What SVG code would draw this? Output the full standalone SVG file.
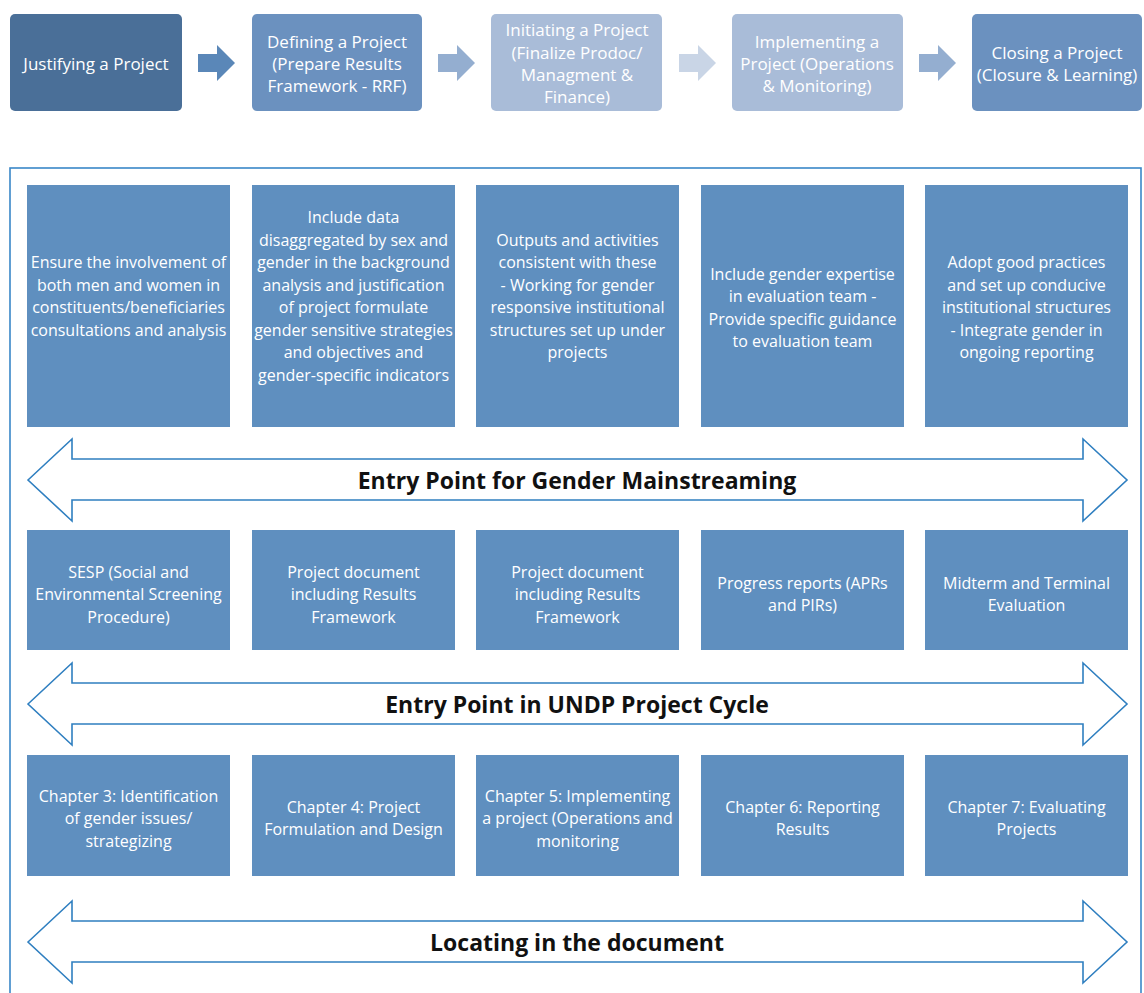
<svg xmlns="http://www.w3.org/2000/svg" width="1144" height="993" viewBox="0 0 1144 993">
<defs>
<style>
.t{font-family:"Open Sans","Noto Sans",sans-serif;font-size:16px;fill:#ffffff;text-anchor:middle}
.h{font-family:"Open Sans","Noto Sans",sans-serif;font-size:17px;fill:#ffffff;text-anchor:middle}
.b{font-family:"Open Sans","Noto Sans",sans-serif;font-size:23px;font-weight:bold;fill:#111111;text-anchor:middle}
.cb{fill:#5f8fbf}
.da{fill:#ffffff;stroke:#2f7fc0;stroke-width:1.6;stroke-linejoin:miter}
</style>
</defs>
<rect width="1144" height="993" fill="#ffffff"/>
<g id="stages">
<g id="s1"><rect x="10" y="14" width="172" height="97" rx="5" fill="#4a6f98"/><text class="h" x="96" y="70">Justifying a Project</text></g>
<g id="s2"><rect x="252" y="14" width="170" height="97" rx="5" fill="#6b91bf"/><text class="h" x="337" y="48">Defining a Project</text><text class="h" x="337" y="70">(Prepare Results</text><text class="h" x="337" y="92">Framework - RRF)</text></g>
<g id="s3"><rect x="491" y="14" width="171" height="97" rx="5" fill="#a9bcd8"/><text class="h" x="577" y="36">Initiating a Project</text><text class="h" x="577" y="59">(Finalize Prodoc/</text><text class="h" x="577" y="81">Managment &amp;</text><text class="h" x="577" y="103">Finance)</text></g>
<g id="s4"><rect x="732" y="14" width="171" height="97" rx="5" fill="#a9bcd8"/><text class="h" x="817" y="48">Implementing a</text><text class="h" x="817" y="70">Project (Operations</text><text class="h" x="817" y="92">&amp; Monitoring)</text></g>
<g id="s5"><rect x="972" y="14" width="170" height="97" rx="5" fill="#6b91bf"/><text class="h" x="1057" y="59">Closing a Project</text><text class="h" x="1057" y="81">(Closure &amp; Learning)</text></g>
</g>
<g id="connectors">
<polygon points="198,54 217,54 217,45 235,63 217,81 217,72 198,72" fill="#5a87b8"/>
<polygon points="438,54 457,54 457,45 475,63 457,81 457,72 438,72" fill="#94aed0"/>
<polygon points="679,54 698,54 698,45 716,63 698,81 698,72 679,72" fill="#c9d5e6"/>
<polygon points="919,54 938,54 938,45 956,63 938,81 938,72 919,72" fill="#94aed0"/>
</g>
<rect id="frame" x="10" y="168" width="1131" height="840" fill="none" stroke="#3a87c8" stroke-width="1.6"/>
<g id="row1">
<g id="r1c1"><rect class="cb" x="27" y="185" width="203" height="242"/><text class="t" x="128.5" y="268">Ensure the involvement of</text><text class="t" x="128.5" y="291">both men and women in</text><text class="t" x="128.5" y="313">constituents/beneficiaries</text><text class="t" x="128.5" y="336">consultations and analysis</text></g>
<g id="r1c2"><rect class="cb" x="252" y="185" width="203" height="242"/><text class="t" x="353.5" y="223">Include data</text><text class="t" x="353.5" y="246">disaggregated by sex and</text><text class="t" x="353.5" y="268">gender in the background</text><text class="t" x="353.5" y="291">analysis and justification</text><text class="t" x="353.5" y="313">of project formulate</text><text class="t" x="353.5" y="336">gender sensitive strategies</text><text class="t" x="353.5" y="358">and objectives and</text><text class="t" x="353.5" y="381">gender-specific indicators</text></g>
<g id="r1c3"><rect class="cb" x="476" y="185" width="203" height="242"/><text class="t" x="577.5" y="246">Outputs and activities</text><text class="t" x="577.5" y="268">consistent with these</text><text class="t" x="577.5" y="291">- Working for gender</text><text class="t" x="577.5" y="313">responsive institutional</text><text class="t" x="577.5" y="336">structures set up under</text><text class="t" x="577.5" y="358">projects</text></g>
<g id="r1c4"><rect class="cb" x="701" y="185" width="203" height="242"/><text class="t" x="802.5" y="280">Include gender expertise</text><text class="t" x="802.5" y="302">in evaluation team -</text><text class="t" x="802.5" y="325">Provide specific guidance</text><text class="t" x="802.5" y="347">to evaluation team</text></g>
<g id="r1c5"><rect class="cb" x="925" y="185" width="203" height="242"/><text class="t" x="1026.5" y="268">Adopt good practices</text><text class="t" x="1026.5" y="291">and set up conducive</text><text class="t" x="1026.5" y="313">institutional structures</text><text class="t" x="1026.5" y="336">- Integrate gender in</text><text class="t" x="1026.5" y="358">ongoing reporting</text></g>
</g>
<g id="arrow1"><polygon class="da" points="28,480 72,439 72,459 1083,459 1083,439 1127,480 1083,521 1083,500 72,500 72,521"/><text class="b" x="577" y="489">Entry Point for Gender Mainstreaming</text></g>
<g id="row2">
<g id="r2c1"><rect class="cb" x="27" y="530" width="203" height="120"/><text class="t" x="128.5" y="578">SESP (Social and</text><text class="t" x="128.5" y="600">Environmental Screening</text><text class="t" x="128.5" y="623">Procedure)</text></g>
<g id="r2c2"><rect class="cb" x="252" y="530" width="203" height="120"/><text class="t" x="353.5" y="578">Project document</text><text class="t" x="353.5" y="600">including Results</text><text class="t" x="353.5" y="623">Framework</text></g>
<g id="r2c3"><rect class="cb" x="476" y="530" width="203" height="120"/><text class="t" x="577.5" y="578">Project document</text><text class="t" x="577.5" y="600">including Results</text><text class="t" x="577.5" y="623">Framework</text></g>
<g id="r2c4"><rect class="cb" x="701" y="530" width="203" height="120"/><text class="t" x="802.5" y="589">Progress reports (APRs</text><text class="t" x="802.5" y="611">and PIRs)</text></g>
<g id="r2c5"><rect class="cb" x="925" y="530" width="203" height="120"/><text class="t" x="1026.5" y="589">Midterm and Terminal</text><text class="t" x="1026.5" y="611">Evaluation</text></g>
</g>
<g id="arrow2"><polygon class="da" points="28,704 72,663 72,683 1083,683 1083,663 1127,704 1083,745 1083,724 72,724 72,745"/><text class="b" x="577" y="713">Entry Point in UNDP Project Cycle</text></g>
<g id="row3">
<g id="r3c1"><rect class="cb" x="27" y="755" width="203" height="121"/><text class="t" x="128.5" y="802">Chapter 3: Identification</text><text class="t" x="128.5" y="824">of gender issues/</text><text class="t" x="128.5" y="847">strategizing</text></g>
<g id="r3c2"><rect class="cb" x="252" y="755" width="203" height="121"/><text class="t" x="353.5" y="813">Chapter 4: Project</text><text class="t" x="353.5" y="835">Formulation and Design</text></g>
<g id="r3c3"><rect class="cb" x="476" y="755" width="203" height="121"/><text class="t" x="577.5" y="802">Chapter 5: Implementing</text><text class="t" x="577.5" y="824">a project (Operations and</text><text class="t" x="577.5" y="847">monitoring</text></g>
<g id="r3c4"><rect class="cb" x="701" y="755" width="203" height="121"/><text class="t" x="802.5" y="813">Chapter 6: Reporting</text><text class="t" x="802.5" y="835">Results</text></g>
<g id="r3c5"><rect class="cb" x="925" y="755" width="203" height="121"/><text class="t" x="1026.5" y="813">Chapter 7: Evaluating</text><text class="t" x="1026.5" y="835">Projects</text></g>
</g>
<g id="arrow3"><polygon class="da" points="28,942 72,901 72,921 1083,921 1083,901 1127,942 1083,983 1083,962 72,962 72,983"/><text class="b" x="577" y="951">Locating in the document</text></g>
</svg>
